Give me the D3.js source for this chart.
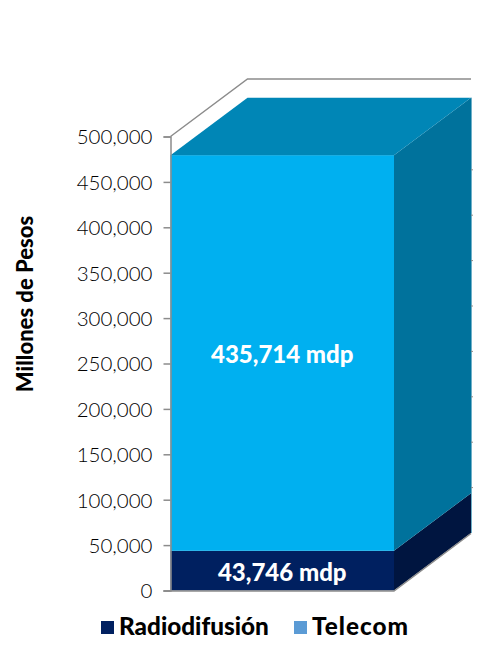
<!DOCTYPE html>
<html><head><meta charset="utf-8">
<script src="https://cdn.jsdelivr.net/npm/d3@7/dist/d3.min.js"></script>
<style>html,body{margin:0;padding:0;background:#fff}svg{display:block}text{font-family:Lato,"Open Sans",sans-serif}</style>
</head><body><svg id="c" width="500" height="659"></svg>
<script>
const series = ["Radiodifusión", "Telecom"];
const values = [43746, 435714];
const labels = ["43,746 mdp", "435,714 mdp"];
const tickValues = [0,50000,100000,150000,200000,250000,300000,350000,400000,450000,500000];
const frontColors = ["#002060", "#00b0f0"];
const sideColors = ["#001540", "#00729c"];
const topColor = "#0086b6";
const legendColors = ["#002060", "#5b9bd5"];

const svg = d3.select("#c");
const y = d3.scaleLinear().domain([0,500000]).range([590.5,136.5]);
const x0 = 170.5, x1 = 394, dx = 77, dy = -57.5;
const line = d3.line();

// back wall edge
svg.append("path").attr("d", line([[x0,y(500000)],[x0+dx,y(500000)+dy],[471,y(500000)+dy]]))
  .attr("fill","none").attr("stroke","#8c8c8c").attr("stroke-width",1.5);

// stacked blocks
let acc = 0;
const stacks = values.map(v => { const s = {from:acc,to:acc+v}; acc += v; return s; });
stacks.forEach((s,i)=>{
  const yb=y(s.from), yt=y(s.to);
  svg.append("path").attr("fill",sideColors[i])
    .attr("d",line([[x1,yb],[x1+dx,yb+dy],[x1+dx,yt+dy],[x1,yt]])+"Z");
  svg.append("rect").attr("x",x0).attr("y",yt).attr("width",x1-x0).attr("height",yb-yt).attr("fill",frontColors[i]);
});
const topY = y(acc);
svg.append("path").attr("fill",topColor)
  .attr("d",line([[x0,topY],[x0+dx,topY+dy],[x1+dx,topY+dy],[x1,topY]])+"Z");

// right wall edge and its small ticks, showing past the block
svg.append("line").attr("x1",x1+dx+.5).attr("x2",x1+dx+.5).attr("y1",topY+dy).attr("y2",y(0)+dy)
  .attr("stroke","#6fb0c8").attr("stroke-width",1);
svg.selectAll(".rt").data(tickValues.filter(t=>t>0&&t<450000)).join("line").attr("class","rt")
  .attr("x1",x1+dx).attr("x2",x1+dx+2).attr("y1",d=>y(d)+dy).attr("y2",d=>y(d)+dy).attr("stroke","#8c8c8c").attr("stroke-width",1);

// axis
const axis = d3.axisLeft(y).tickValues(tickValues).tickSize(7).tickPadding(11).tickFormat(d3.format(","));
const g = svg.append("g").attr("transform",`translate(${x0},0)`).call(axis);
g.selectAll("path,line").attr("stroke","#8c8c8c").attr("stroke-width",1.5);
g.selectAll("text").attr("font-size",20.5).attr("font-weight",300).attr("fill","#000").attr("dy","0.36em").style("font-family","Lato,sans-serif");
// floor edge
svg.append("path").attr("d",line([[x0-7,y(0)+.5],[x1,y(0)+.5],[x1+dx,y(0)+.5+dy]]))
  .attr("fill","none").attr("stroke","#8c8c8c").attr("stroke-width",1.5);

// data labels
stacks.forEach((s,i)=>{
  svg.append("text").attr("x",(x0+x1)/2).attr("y",y((s.from+s.to)/2)+ (i==0?10:10))
    .attr("text-anchor","middle").attr("fill","#fff").attr("font-weight",900).attr("font-size",24).text(labels[i]);
});

// y title
svg.append("text").attr("transform","translate(33,304) rotate(-90)").attr("text-anchor","middle")
  .attr("font-weight",900).attr("font-size",22).attr("fill","#000").text("Millones de Pesos");

// legend
const lx=[101,294], tx=[119,312], spacing=[0,1];
series.forEach((n,i)=>{
  svg.append("rect").attr("x",lx[i]).attr("y",621).attr("width",13).attr("height",13).attr("fill",legendColors[i]);
  svg.append("text").attr("x",tx[i]).attr("y",635).attr("font-weight",900).attr("font-size",24.3).attr("letter-spacing",spacing[i]).attr("fill","#000").text(n);
});
</script></body></html>
